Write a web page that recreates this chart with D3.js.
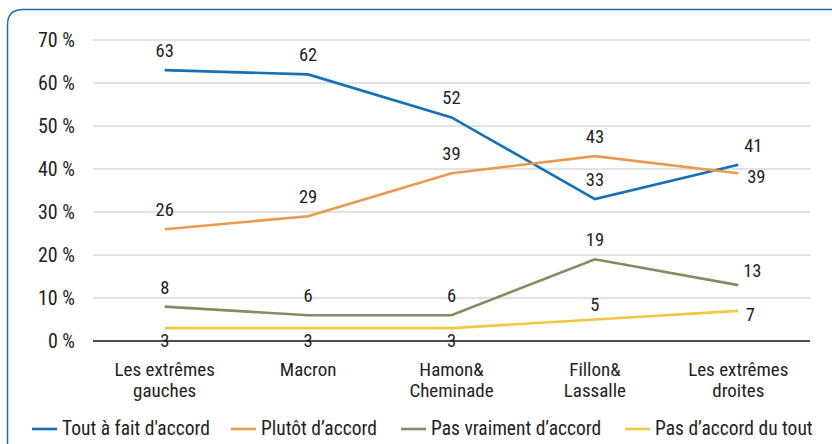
<!DOCTYPE html>
<html>
<head>
<meta charset="utf-8">
<script src="https://cdn.jsdelivr.net/npm/d3@7"></script>
<style>
  body { margin: 0; background: #fff; }
  svg text { font-family: "Roboto Condensed", "Roboto", sans-serif; fill: #231f20; }
</style>
</head>
<body>
<div id="chart"></div>
<script>
// chart values
var categories = [["Les extrêmes", "gauches"], ["Macron"], ["Hamon&", "Cheminade"], ["Fillon&", "Lassalle"], ["Les extrêmes", "droites"]];
var seriesNames = ["Tout à fait d'accord", "Plutôt d’accord", "Pas vraiment d’accord", "Pas d’accord du tout"];
var toutAFait = [63, 62, 52, 33, 41];
var plutot = [26, 29, 39, 43, 39];
var pasVraiment = [8, 6, 6, 19, 13];
var pasDuTout = [3, 3, 3, 5, 7];
var yTicks = [0, 10, 20, 30, 40, 50, 60, 70];

var colors = ["#1570b8", "#e99a4f", "#7d8f62", "#f1c843"];
var allSeries = [toutAFait, plutot, pasVraiment, pasDuTout];

var width = 832, height = 444;
var margin = {top: 40, right: 22, bottom: 103, left: 93};

var svg = d3.select("#chart").append("svg")
    .attr("width", width)
    .attr("height", height);

// frame: rounded top-left corner, open to the right and bottom
svg.append("path")
    .attr("d", "M7.5," + height + " L7.5,25 Q7.5,9.5 23,9.5 L" + width + ",9.5")
    .attr("fill", "none")
    .attr("stroke", "#1570b8")
    .attr("stroke-width", 1.5);

var x = d3.scalePoint()
    .domain(d3.range(categories.length))
    .range([margin.left, width - margin.right])
    .padding(0.5);

var y = d3.scaleLinear()
    .domain([0, 70])
    .range([height - margin.bottom, margin.top]);

// gridlines
svg.append("g").selectAll("line")
    .data(yTicks.filter(function (d) { return d > 0; }))
    .enter().append("line")
    .attr("x1", margin.left).attr("x2", width - margin.right)
    .attr("y1", function (d) { return y(d); })
    .attr("y2", function (d) { return y(d); })
    .attr("stroke", "#d9d9d9")
    .attr("stroke-width", 1.3);

// y labels
var yAxis = d3.axisLeft(y).tickValues(yTicks).tickSize(0).tickPadding(18)
    .tickFormat(function (d) { return d + " %"; });
svg.append("g")
    .attr("transform", "translate(" + margin.left + ",0)")
    .call(yAxis)
    .call(function (g) { g.select(".domain").remove(); })
    .selectAll("text")
    .style("font-size", "20px");

// lines
var line = d3.line()
    .x(function (d, i) { return x(i); })
    .y(function (d) { return y(d); });

svg.append("g").selectAll("path")
    .data(allSeries)
    .enter().append("path")
    .attr("d", line)
    .attr("fill", "none")
    .attr("stroke", function (d, i) { return colors[i]; })
    .attr("stroke-width", 2.6);

// x axis line
svg.append("line")
    .attr("x1", margin.left).attr("x2", width - margin.right)
    .attr("y1", y(0)).attr("y2", y(0))
    .attr("stroke", "#111")
    .attr("stroke-width", 1.5);

// data labels: above the point, except the "3"s below and the last column to the right
function labelPos(si, i, v) {
    var px = x(i), py = y(v);
    var last = i === categories.length - 1;
    if (last) {
        if (si === 0) return [px + 15, py - 13];
        if (si === 1) return [px + 18, py + 10];
        if (si === 2) return [px + 14, py - 8];
        return [px + 12, py + 10];
    }
    if (si === 3) return v === 3 ? [px, py + 19] : [px, py - 9];
    return [px, py - 13];
}
allSeries.forEach(function (s, si) {
    svg.append("g").selectAll("text")
        .data(s)
        .enter().append("text")
        .attr("x", function (d, i) { return labelPos(si, i, d)[0]; })
        .attr("y", function (d, i) { return labelPos(si, i, d)[1]; })
        .attr("text-anchor", "middle")
        .style("font-size", "18.5px")
        .text(function (d) { return d; });
});

// category labels
var catG = svg.append("g").selectAll("text")
    .data(categories)
    .enter().append("text")
    .attr("x", function (d, i) { return x(i); })
    .attr("y", 376)
    .attr("text-anchor", "middle")
    .style("font-size", "19px");
catG.selectAll("tspan")
    .data(function (d) { return d; })
    .enter().append("tspan")
    .attr("x", function () { return d3.select(this.parentNode).attr("x"); })
    .attr("dy", function (d, j) { return j === 0 ? 0 : 21; })
    .text(function (d) { return d; });

// legend
var legendX = [32, 231, 401, 625];
var legend = svg.append("g").selectAll("g")
    .data(seriesNames)
    .enter().append("g")
    .attr("transform", function (d, i) { return "translate(" + legendX[i] + ",429)"; });
legend.append("line")
    .attr("x1", 0).attr("x2", 25)
    .attr("stroke", function (d, i) { return colors[i]; })
    .attr("stroke-width", 2.6);
legend.append("text")
    .attr("x", 30).attr("y", 6)
    .style("font-size", "19.5px")
    .text(function (d) { return d; });
</script>
</body>
</html>
